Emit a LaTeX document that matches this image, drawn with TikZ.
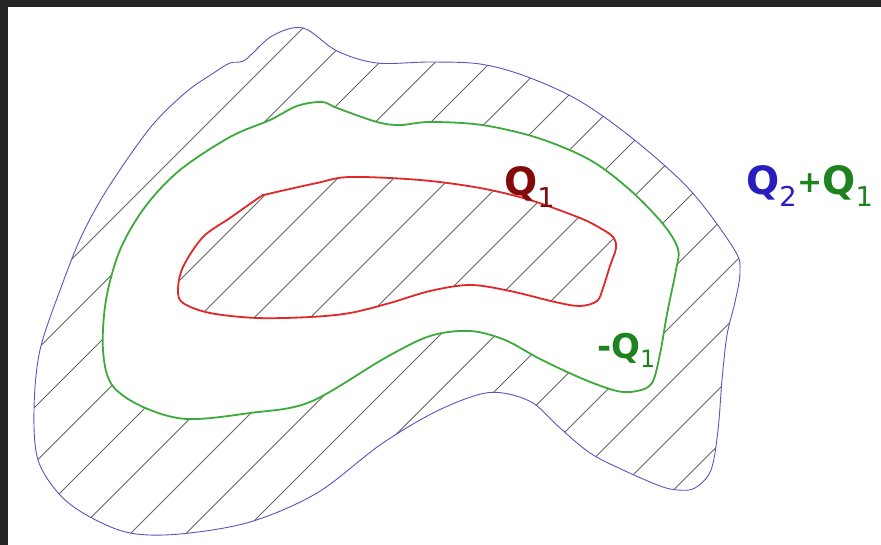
\documentclass[tikz,border=0pt]{standalone}
\usepackage{fontspec}
\newfontfamily\labelfont{DejaVu Sans}
\usetikzlibrary{positioning}
\definecolor{cframe}{RGB}{37,37,37}
\definecolor{couter}{RGB}{100,80,190}
\definecolor{cgreen}{RGB}{60,170,60}
\definecolor{cred}{RGB}{225,40,40}
\definecolor{cqone}{RGB}{130,10,10}
\definecolor{cqtwo}{RGB}{40,30,190}
\definecolor{cqlab}{RGB}{30,130,30}
\tikzset{
  outline/.style={draw=couter,line width=0.9pt},
  inline/.style={draw=cgreen,line width=1.8pt},
  coreline/.style={draw=cred,line width=1.8pt},
  hatch/.style={draw=black!60,line width=0.9pt},
  qlabel/.style={inner sep=0pt,anchor=base west,
    font=\labelfont\bfseries\fontsize{39}{46}\selectfont}
}
\newcommand{\qsub}[1]{\textsubscript{\mdseries#1}}
% boundaries, in pixels of the figure
\def\outerpath{plot[smooth cycle,tension=0.55] coordinates{
  (230,63) (245,60) (272,36) (303,28) (337,51) (377,63) (430,62) (480,64)
  (525,76) (578,100) (632,138) (690,190) (734,249) (740,272) (735,302)
  (727,335) (722,380) (718,430) (711,470) (695,488) (678,490) (660,486)
  (623,470) (590,453) (560,428) (533,403) (503,393) (477,395) (433,413)
  (380,445) (317,493) (250,522) (180,534) (130,533) (90,517) (60,495)
  (38,460) (34,410) (40,350) (62,285) (82,235) (108,188) (150,128)
  (185,93) (212,74)}}
\def\greenpath{plot[smooth cycle,tension=0.55] coordinates{
  (230,137) (270,120) (297,106) (322,102) (337,108) (377,122) (400,125)
  (430,122) (482,125) (538,138) (590,160) (630,190) (663,224) (678,249)
  (676,270) (667,314) (660,354) (652,383) (637,391) (617,391) (583,379)
  (540,359) (505,340) (470,331) (430,336) (385,358) (310,402) (250,413)
  (187,419) (143,407) (112,385) (103,350) (106,300) (120,250) (145,207)
  (180,170)}}
\def\redpath{plot[smooth cycle,tension=0.55] coordinates{
  (350,177) (420,180) (480,188) (530,200) (580,218) (600,228) (613,237)
  (616,248) (610,266) (603,288) (597,301) (580,306) (555,302) (510,291)
  (470,285) (430,291) (390,303) (350,313) (310,317) (257,318) (210,313)
  (183,303) (178,290) (183,267) (203,237) (230,218) (260,197) (268,194)
  (317,183)}}

\begin{document}
\begin{tikzpicture}[x=1pt,y=-1pt]
  \useasboundingbox (0,0) rectangle (881,545);
  \fill[white] (0,0) rectangle (881,545);
  \fill[cframe] (0,0) rectangle (881,7);
  \fill[cframe] (0,0) rectangle (8,545);
  % hatched ring between the outer and the green boundary
  \begin{scope}[even odd rule]
    \clip \outerpath \greenpath;
    \foreach \k in {-6,...,20}
      \draw[hatch] ({331+55.5*\k},0) -- ++(-700,700);
  \end{scope}
  % hatched core
  \begin{scope}
    \clip \redpath;
    \foreach \k in {-6,...,12}
      \draw[hatch] ({460+56*\k},0) -- ++(-700,700);
  \end{scope}
  \draw[outline] \outerpath;
  \draw[inline] \greenpath;
  \draw[coreline] \redpath;
  \node[qlabel,text=cqone] (qone) at (504,196) {Q\qsub{1}};
  \node[qlabel] (qsum) at (746,195) {\textcolor{cqtwo}{Q\qsub{2}}%
    \textcolor{cqlab}{\raisebox{2pt}{\fontsize{30}{32}\selectfont+}Q\qsub{1}}};
  \node[qlabel,text=cqlab,font=\labelfont\bfseries\fontsize{34}{40}\selectfont]
    (qneg) at (597,359) {-Q\qsub{1}};
\end{tikzpicture}
\end{document}
